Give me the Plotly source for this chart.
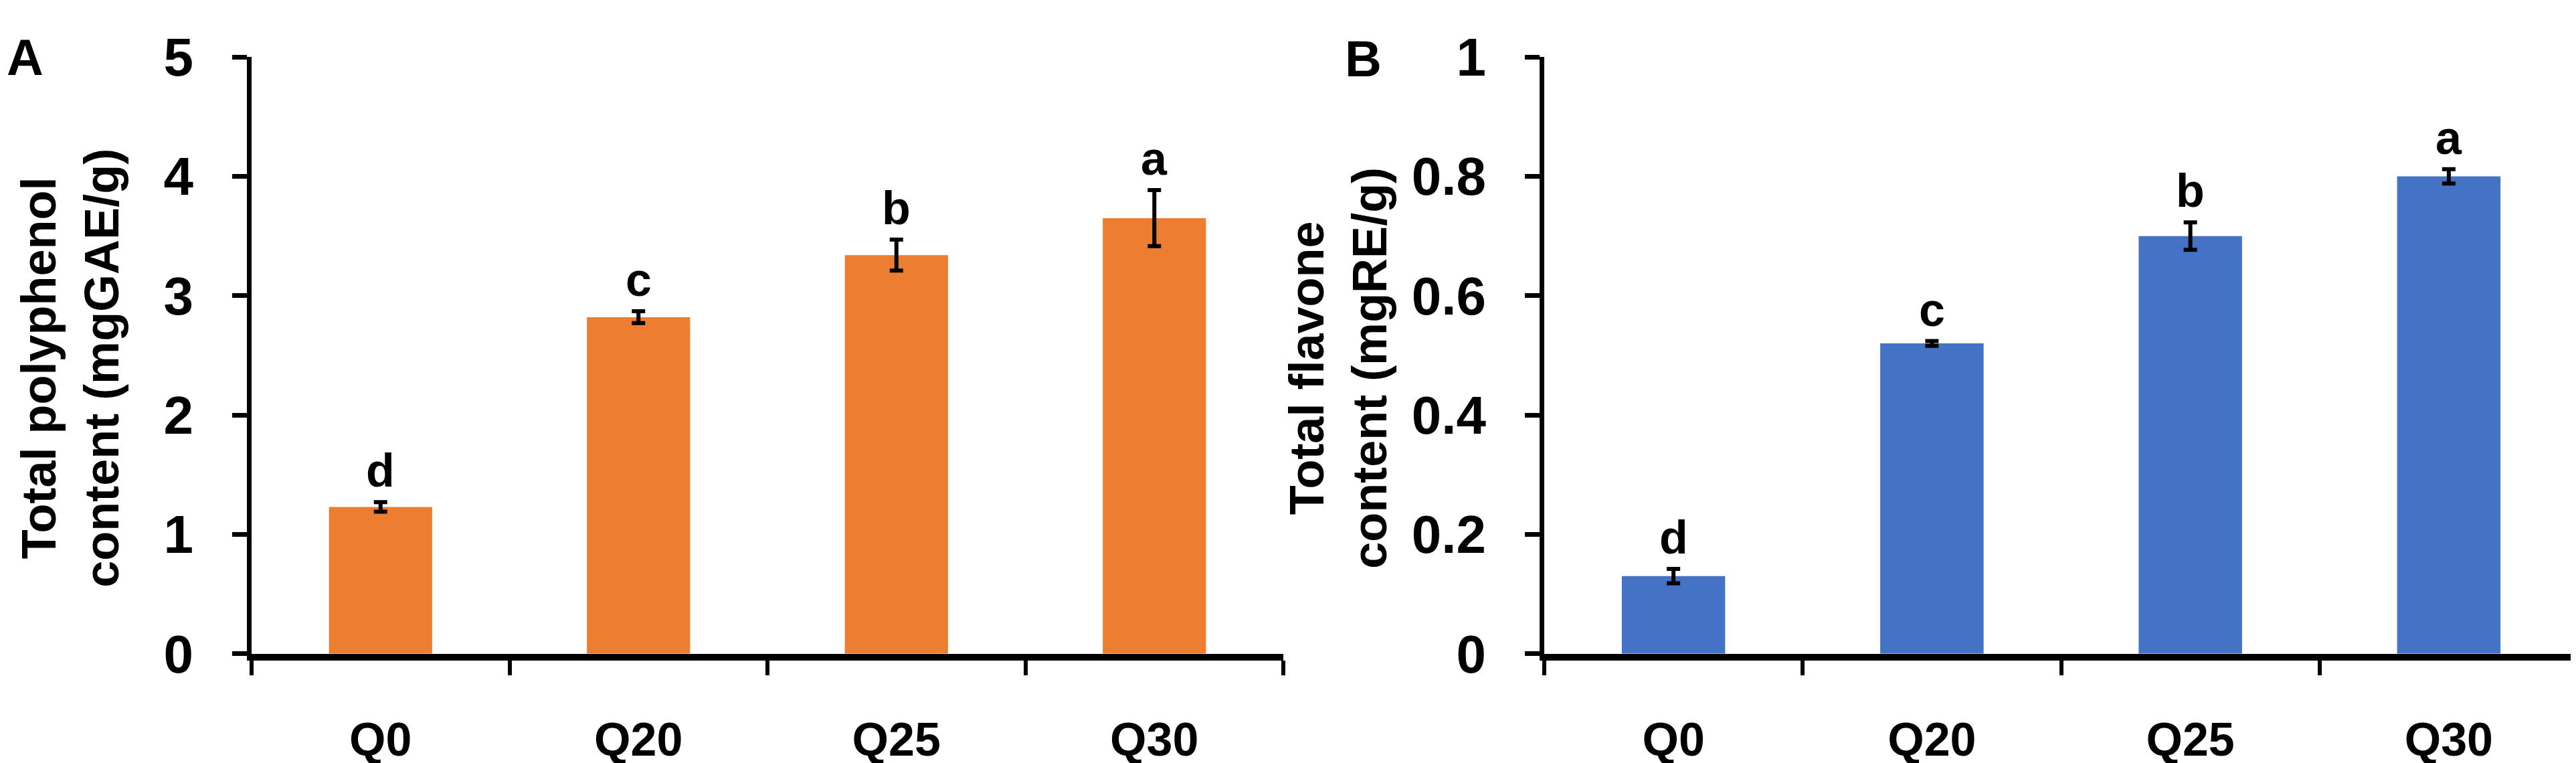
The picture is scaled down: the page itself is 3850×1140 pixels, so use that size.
import plotly.graph_objects as go

W, H = 3850, 1140

categories = ["Q0", "Q20", "Q25", "Q30"]

polyphenol = [1.23, 2.82, 3.34, 3.65]
polyphenol_err = [0.04, 0.05, 0.13, 0.235]
polyphenol_letters = ["d", "c", "b", "a"]

flavone = [0.13, 0.52, 0.70, 0.80]
flavone_err = [0.012, 0.004, 0.023, 0.012]
flavone_letters = ["d", "c", "b", "a"]

yticks_a = [0, 1, 2, 3, 4, 5]
yticks_b = [0, 0.2, 0.4, 0.6, 0.8, 1]
yticklabels_b = ["0", "0.2", "0.4", "0.6", "0.8", "1"]

ORANGE = "#ED7D31"
BLUE = "#4472C4"
FONT = "Liberation Sans"


def px_x(p):
    return p / W


def px_y(p):
    return 1 - p / H


fig = go.Figure()

fig.add_trace(go.Bar(
    x=categories, y=polyphenol, marker=dict(color=ORANGE, line=dict(width=0)),
    error_y=dict(type="data", array=polyphenol_err, visible=True,
                 color="black", thickness=6, width=10),
    xaxis="x", yaxis="y", showlegend=False,
))
fig.add_trace(go.Bar(
    x=categories, y=flavone, marker=dict(color=BLUE, line=dict(width=0)),
    error_y=dict(type="data", array=flavone_err, visible=True,
                 color="black", thickness=6, width=10),
    xaxis="x2", yaxis="y2", showlegend=False,
))

y0_px, y1_px = 1003, 36
dom_y = [px_y(y0_px), px_y(y1_px)]

xaxis_common = dict(
    showline=True, linecolor="black", linewidth=10,
    ticks="outside", tickson="boundaries", ticklen=22, tickwidth=6, tickcolor="black",
    showgrid=False, zeroline=False,
    tickfont=dict(family=FONT, size=70, color="black", weight="bold"),
    ticklabelstandoff=58,
)
yaxis_common = dict(
    showline=True, linecolor="black", linewidth=7,
    ticks="outside", ticklen=22, tickwidth=7, tickcolor="black",
    showgrid=False, zeroline=False,
    tickfont=dict(family=FONT, size=80, color="black", weight="bold"),
    ticklabelstandoff=42, ticklabeloverflow="allow",
)

fig.update_layout(
    width=W, height=H,
    margin=dict(l=0, r=0, t=0, b=0),
    paper_bgcolor="white", plot_bgcolor="white",
    bargap=0.6,
    xaxis=dict(domain=[px_x(368), px_x(1910)], anchor="y", **xaxis_common),
    yaxis=dict(domain=dom_y, anchor="x", range=[0, 5], tickvals=yticks_a,
               ticktext=[str(v) for v in yticks_a], **yaxis_common),
    xaxis2=dict(domain=[px_x(2300), px_x(3845)], anchor="y2", **xaxis_common),
    yaxis2=dict(domain=dom_y, anchor="x2", range=[0, 1], tickvals=yticks_b,
                ticktext=yticklabels_b, **yaxis_common),
)

letter_font = dict(family=FONT, size=70, color="black", weight="bold")
for cat, v, e, t in zip(categories, polyphenol, polyphenol_err, polyphenol_letters):
    fig.add_annotation(x=cat, y=v + e, xref="x", yref="y", text=t, showarrow=False,
                       yanchor="bottom", yshift=6, font=letter_font)
for cat, v, e, t in zip(categories, flavone, flavone_err, flavone_letters):
    fig.add_annotation(x=cat, y=v + e, xref="x2", yref="y2", text=t, showarrow=False,
                       yanchor="bottom", yshift=6, font=letter_font)

title_font = dict(family=FONT, size=72, color="black", weight="bold")
fig.add_annotation(x=px_x(97), y=px_y(540), xref="paper", yref="paper",
                   text="Total polyphenol<br>content (mgGAE/g)", textangle=-90,
                   showarrow=False, xanchor="center", yanchor="middle", font=title_font)
fig.add_annotation(x=px_x(1992), y=px_y(540), xref="paper", yref="paper",
                   text="Total flavone<br>content (mgRE/g)", textangle=-90,
                   showarrow=False, xanchor="center", yanchor="middle", font=title_font)

panel_font = dict(family=FONT, size=76, color="black", weight="bold")
fig.add_annotation(x=px_x(29), y=px_y(36), xref="paper", yref="paper", text="A",
                   showarrow=False, xanchor="center", yanchor="middle", font=panel_font)
fig.add_annotation(x=px_x(2030), y=px_y(38), xref="paper", yref="paper", text="B",
                   showarrow=False, xanchor="center", yanchor="middle", font=panel_font)

fig.write_html("out.html")
